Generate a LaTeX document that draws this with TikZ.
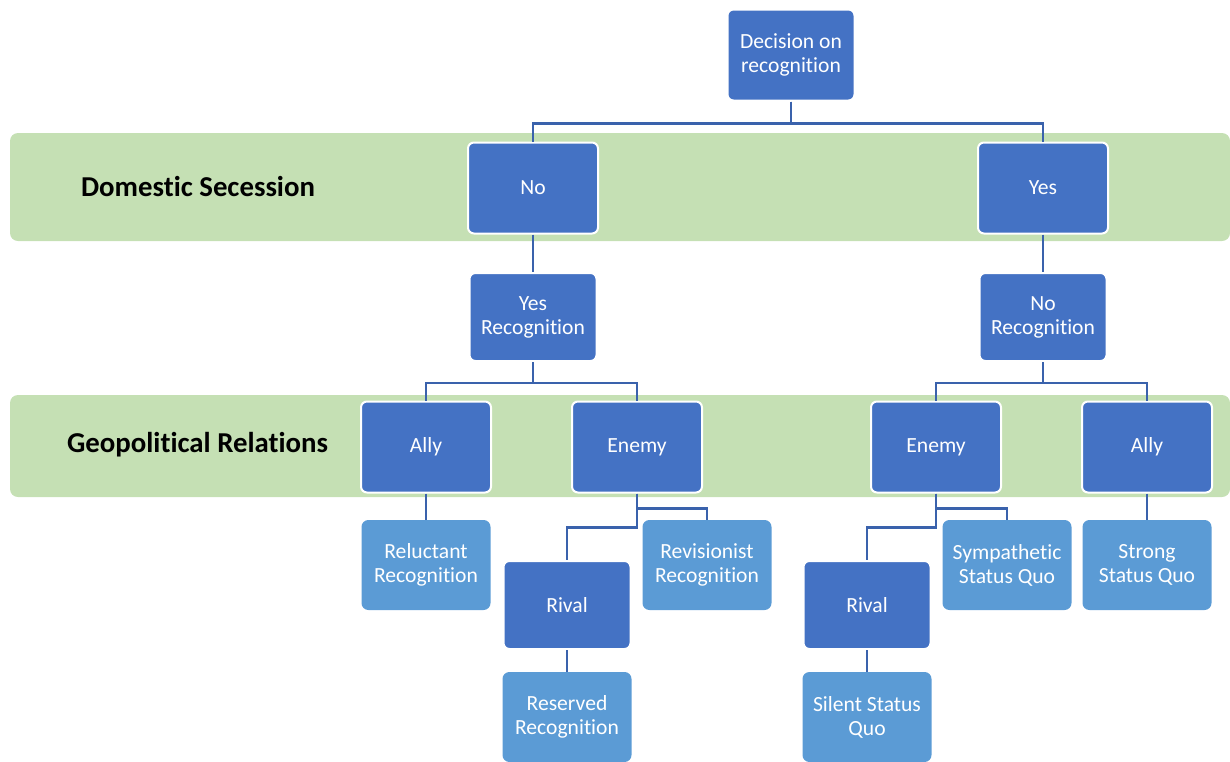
\documentclass[tikz,border=0pt]{standalone}
\usepackage{fontspec}
\setmainfont{Carlito}[Ligatures=NoCommon]
\usepackage{tikz}
\definecolor{darkbox}{HTML}{4472C4}
\definecolor{lightbox}{HTML}{5B9BD5}
\definecolor{bandgreen}{HTML}{C5E0B4}
\definecolor{linkblue}{HTML}{3A62AC}
\tikzstyle{choice} = [rectangle, rounded corners=3pt, minimum width=63.5pt, minimum height=44pt, inner sep=0pt, align=center, draw=white, line width=1pt, fill=darkbox, text=white, font=\fontsize{10.8}{12}\selectfont]
\tikzstyle{bandchoice} = [choice, minimum width=65pt, minimum height=45.5pt]
\tikzstyle{outcome} = [choice, fill=lightbox, draw=lightbox]
\tikzstyle{band} = [fill=bandgreen, rounded corners=4pt]
\tikzstyle{bandlabel} = [anchor=west, font=\fontsize{14.4}{16}\selectfont\bfseries]
\tikzstyle{link} = [linkblue, line width=1.2pt]

\begin{document}
\begin{tikzpicture}
						\useasboundingbox (0,0) rectangle (615pt,-380.5pt);
						\fill [band] (5pt,-66.5pt) rectangle (615pt,-120.5pt);
						\fill [band] (5pt,-197.5pt) rectangle (615pt,-248.5pt);
						\node (secession) [bandlabel] at (37pt,-93pt) {Domestic Secession};
						\node (relations) [bandlabel] at (30pt,-222.5pt) {Geopolitical Relations};
						\node (dec) [choice, minimum height=45.5pt] at (395.5pt,-27.5pt) {Decision on\\recognition};
						\node (no) [bandchoice, below of=dec, node distance=66.5pt, xshift=-129pt] {No};
						\node (yes) [bandchoice, below of=dec, node distance=66.5pt, xshift=126pt] {Yes};
						\node (yesrec) [choice, below of=no, node distance=64.5pt] {Yes\\Recognition};
						\node (norec) [choice, below of=yes, node distance=64.5pt] {No\\Recognition};
						\node (allyl) [bandchoice, below of=yesrec, node distance=65pt, xshift=-53.5pt] {Ally};
						\node (enemyl) [bandchoice, below of=yesrec, node distance=65pt, xshift=52pt] {Enemy};
						\node (enemyr) [bandchoice, below of=norec, node distance=65pt, xshift=-53.5pt] {Enemy};
						\node (allyr) [bandchoice, below of=norec, node distance=65pt, xshift=52pt] {Ally};
						\node (reluctant) [outcome, below of=allyl, node distance=59pt] {Reluctant\\Recognition};
						\node (rivall) [choice, below of=enemyl, node distance=79pt, xshift=-35pt] {Rival};
						\node (revisionist) [outcome, below of=enemyl, node distance=59pt, xshift=35pt] {Revisionist\\Recognition};
						\node (reserved) [outcome, below of=rivall, node distance=56pt] {Reserved\\Recognition};
						\node (rivalr) [choice, below of=enemyr, node distance=79pt, xshift=-34.5pt] {Rival};
						\node (sympathetic) [outcome, below of=enemyr, node distance=59pt, xshift=35.5pt] {Sympathetic\\Status Quo};
						\node (silent) [outcome, below of=rivalr, node distance=56pt] {Silent Status\\Quo};
						\node (strong) [outcome, below of=allyr, node distance=59pt] {Strong\\Status Quo};
						\draw [link] (dec.south) -- ++(0,-11pt) -| (no.north);
						\draw [link] (dec.south) -- ++(0,-11pt) -| (yes.north);
						\draw [link] (no) -- (yesrec);
						\draw [link] (yes) -- (norec);
						\draw [link] (yesrec.south) -- ++(0,-10.5pt) -| (allyl.north);
						\draw [link] (yesrec.south) -- ++(0,-10.5pt) -| (enemyl.north);
						\draw [link] (norec.south) -- ++(0,-10.5pt) -| (enemyr.north);
						\draw [link] (norec.south) -- ++(0,-10.5pt) -| (allyr.north);
						\draw [link] (allyl) -- (reluctant);
						\draw [link] (enemyl.south) -- ++(0,-7.5pt) -| (revisionist.north);
						\draw [link] (enemyl.south) -- ++(0,-17pt) -| (rivall.north);
						\draw [link] (rivall) -- (reserved);
						\draw [link] (enemyr.south) -- ++(0,-7.5pt) -| (sympathetic.north);
						\draw [link] (enemyr.south) -- ++(0,-17pt) -| (rivalr.north);
						\draw [link] (rivalr) -- (silent);
						\draw [link] (allyr) -- (strong);
					\end{tikzpicture}
\end{document}
